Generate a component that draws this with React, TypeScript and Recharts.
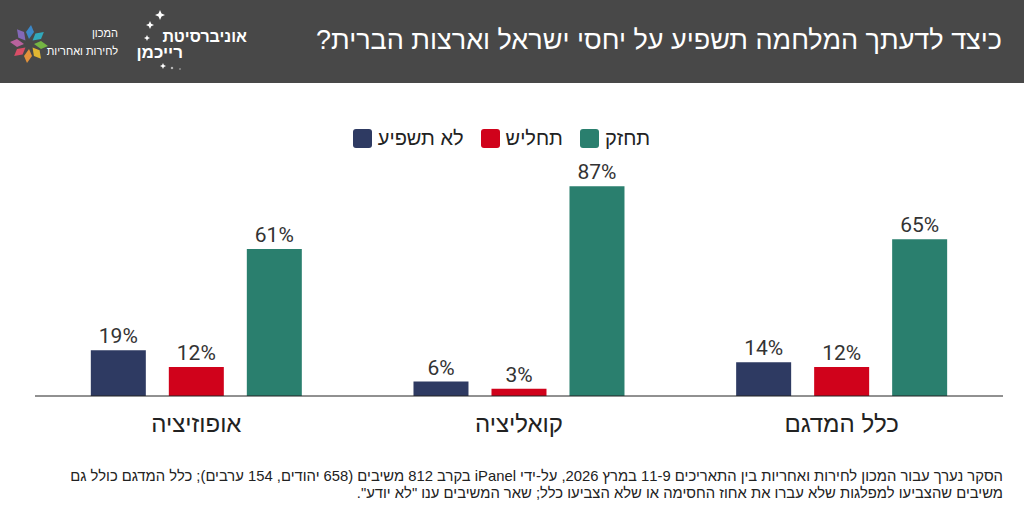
import React from 'react';
import { BarChart, Bar, XAxis, YAxis, LabelList, Legend } from 'recharts';

const categories = ['אופוזיציה', 'קואליציה', 'כלל המדגם'];
const noEffect = [19, 6, 14];
const weaken = [12, 3, 12];
const strengthen = [61, 87, 65];
const seriesNames = ['לא תשפיע', 'תחליש', 'תחזק'];
const seriesColors = ['#2e3a62', '#d0021b', '#2a7f6e'];

const title = 'כיצד לדעתך המלחמה תשפיע על יחסי ישראל וארצות הברית?';
const footnote =
  'הסקר נערך עבור המכון לחירות ואחריות בין התאריכים 11-9 במרץ 2026, על-ידי iPanel בקרב 812 משיבים (658 יהודים, 154 ערבים); כלל המדגם כולל גם משיבים שהצביעו למפלגות שלא עברו את אחוז החסימה או שלא הצביעו כלל; שאר המשיבים ענו "לא יודע".';

const data = categories.map((c, i) => ({
  name: c,
  a: noEffect[i],
  b: weaken[i],
  c: strengthen[i],
}));

const petalColors = ['#3b8fd6', '#2fb4c9', '#79c142', '#f2c230', '#f39a3a', '#e94f6a', '#c565a6', '#8a6cc4'];

const LEGEND_H = 24;

const Flower = () => (
  <g transform="translate(29,44)">
    {petalColors.map((col, i) => (
      <polygon
        key={i}
        points="0,-5 5,-12 2,-19 -3,-12"
        fill={col}
        opacity={0.9}
        transform={`rotate(${i * 45})`}
      />
    ))}
  </g>
);

const Star = ({ x, y, s }: { x: number; y: number; s: number }) => (
  <polygon
    points={`${x},${y - s} ${x + s * 0.3},${y - s * 0.3} ${x + s},${y} ${x + s * 0.3},${y + s * 0.3} ${x},${y + s} ${x - s * 0.3},${y + s * 0.3} ${x - s},${y} ${x - s * 0.3},${y - s * 0.3}`}
    fill="#fff"
  />
);

const renderLegend = (props: any) => {
  const payload = [...(props.payload || [])].sort(
    (p: any, q: any) => seriesNames.indexOf(p.value) - seriesNames.indexOf(q.value)
  );
  return (
    <div style={{ height: LEGEND_H, display: 'flex', justifyContent: 'center', alignItems: 'center', gap: 17 }}>
      {payload.map((p: any) => (
        <div key={p.value} style={{ display: 'flex', alignItems: 'center', gap: 6 }}>
          <div style={{ width: 19, height: 19, borderRadius: 3, background: p.color }} />
          <span dir="rtl" style={{ fontSize: 20, lineHeight: '24px', color: '#222', fontFamily: '"Liberation Sans", Arial, sans-serif' }}>
            {p.value}
          </span>
        </div>
      ))}
    </div>
  );
};

export default function App() {
  return (
    <div
      style={{
        position: 'absolute',
        left: 0,
        top: 0,
        width: 1024,
        height: 512,
        background: '#fff',
        overflow: 'hidden',
        fontFamily: '"Liberation Sans", Arial, sans-serif',
      }}
    >
      <div style={{ position: 'absolute', left: 0, top: 0, width: 1024, height: 83, background: '#484848' }}>
        <svg width={260} height={83} style={{ position: 'absolute', left: 0, top: 0 }}>
          <Flower />
          <text x={118} y={37} fill="#fff" fontSize={11} textAnchor="end" fontFamily='"Liberation Sans", Arial, sans-serif'>
            המכון
          </text>
          <text x={118} y={55} fill="#fff" fontSize={11} textAnchor="end" fontFamily='"Liberation Sans", Arial, sans-serif'>
            לחירות ואחריות
          </text>
          <text x={247} y={42} fill="#fff" fontSize={16} fontWeight="bold" textAnchor="end" fontFamily='"Liberation Sans", Arial, sans-serif'>
            אוניברסיטת
          </text>
          <text x={183} y={58} fill="#fff" fontSize={17} fontWeight="bold" textAnchor="end" fontFamily='"Liberation Sans", Arial, sans-serif'>
            רייכמן
          </text>
          <Star x={160} y={15} s={5} />
          <Star x={150} y={25} s={4} />
          <Star x={147} y={38} s={3} />
          <Star x={163} y={66} s={3} />
          <Star x={172} y={68} s={1.5} />
          <Star x={180} y={69} s={1} />
        </svg>
        <div
          dir="rtl"
          style={{
            position: 'absolute',
            right: 22,
            top: 20,
            lineHeight: '40px',
            fontSize: 27,
            color: '#fff',
            whiteSpace: 'nowrap',
          }}
        >
          {title}
        </div>
      </div>

      <div style={{ position: 'absolute', left: 0, top: 0 }}>
        <BarChart
          width={1024}
          height={512}
          data={data}
          margin={{ top: 155 - LEGEND_H, right: 21, bottom: 76, left: 35 }}
          barGap={23}
          barCategoryGap="17.3%"
        >
          <XAxis
            dataKey="name"
            axisLine={{ stroke: '#222', strokeWidth: 1 }}
            tickLine={false}
            tickMargin={13}
            tick={{ fontSize: 24, fill: '#222', fontFamily: '"Liberation Sans", Arial, sans-serif' }}
            height={40}
          />
          <YAxis hide domain={[0, 100]} />
          <Legend
            verticalAlign="top"
            content={renderLegend}
            wrapperStyle={{ top: 126, left: 0, width: 1003, height: LEGEND_H }}
          />
          {['a', 'b', 'c'].map((k, i) => (
            <Bar key={k} dataKey={k} name={seriesNames[i]} fill={seriesColors[i]} isAnimationActive={false}>
              <LabelList
                dataKey={k}
                position="top"
                offset={7}
                formatter={(v: any) => `${v}%`}
                style={{ fontSize: 21, fill: '#333', fontFamily: 'Roboto, sans-serif' }}
              />
            </Bar>
          ))}
        </BarChart>
      </div>

      <div
        dir="rtl"
        style={{
          position: 'absolute',
          right: 21,
          top: 468,
          width: 935,
          fontSize: 14.8,
          lineHeight: '17px',
          color: '#222',
        }}
      >
        {footnote}
      </div>
    </div>
  );
}
